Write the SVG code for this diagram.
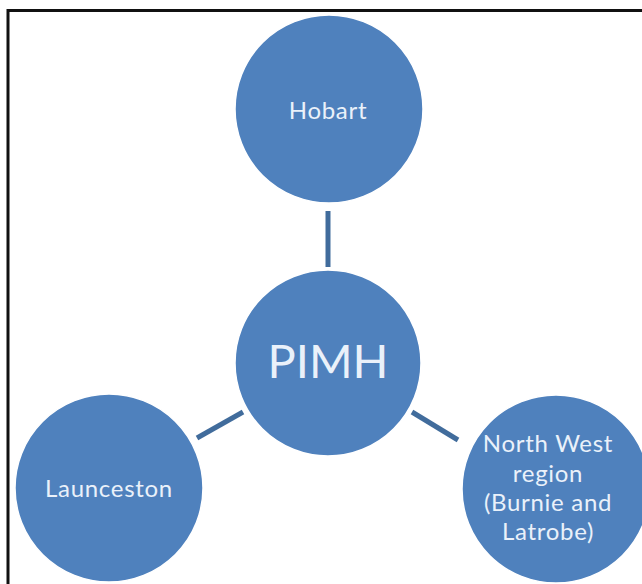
<svg xmlns="http://www.w3.org/2000/svg" width="642" height="584" viewBox="0 0 642 584">
  <style>
    .node { fill: #4f81bd; stroke: #ffffff; stroke-width: 1.5; }
    .label { font-family: Lato, "Open Sans", sans-serif; fill: #eaf1fa; text-anchor: middle; font-size: 24px; letter-spacing: 0.7px; }
    .big { font-size: 47px; letter-spacing: 0; }
    .conn { stroke: #416c9c; stroke-width: 5; stroke-linecap: butt; }
  </style>
  <rect x="0" y="0" width="642" height="584" fill="#ffffff"/>
  <rect x="8" y="10.5" width="700" height="650" fill="none" stroke="#111111" stroke-width="3"/>
  <g id="connectors">
    <line class="conn" x1="328" y1="211" x2="328" y2="267"/>
    <line class="conn" x1="197" y1="438" x2="243" y2="412"/>
    <line class="conn" x1="412" y1="412" x2="458" y2="440"/>
  </g>
  <g id="hobart">
    <circle class="node" cx="329" cy="109" r="94"/>
    <text class="label" x="328" y="119">Hobart</text>
  </g>
  <g id="pimh">
    <circle class="node" cx="328" cy="363" r="93"/>
    <text class="label big" x="328" y="378">PIMH</text>
  </g>
  <g id="launceston">
    <circle class="node" cx="109" cy="488" r="94"/>
    <text class="label" x="109" y="497">Launceston</text>
  </g>
  <g id="northwest">
    <circle class="node" cx="556" cy="489" r="94"/>
    <text class="label" x="548" y="452">North West</text>
    <text class="label" x="548" y="482">region</text>
    <text class="label" x="548" y="511">(Burnie and</text>
    <text class="label" x="548" y="540">Latrobe)</text>
  </g>
</svg>
